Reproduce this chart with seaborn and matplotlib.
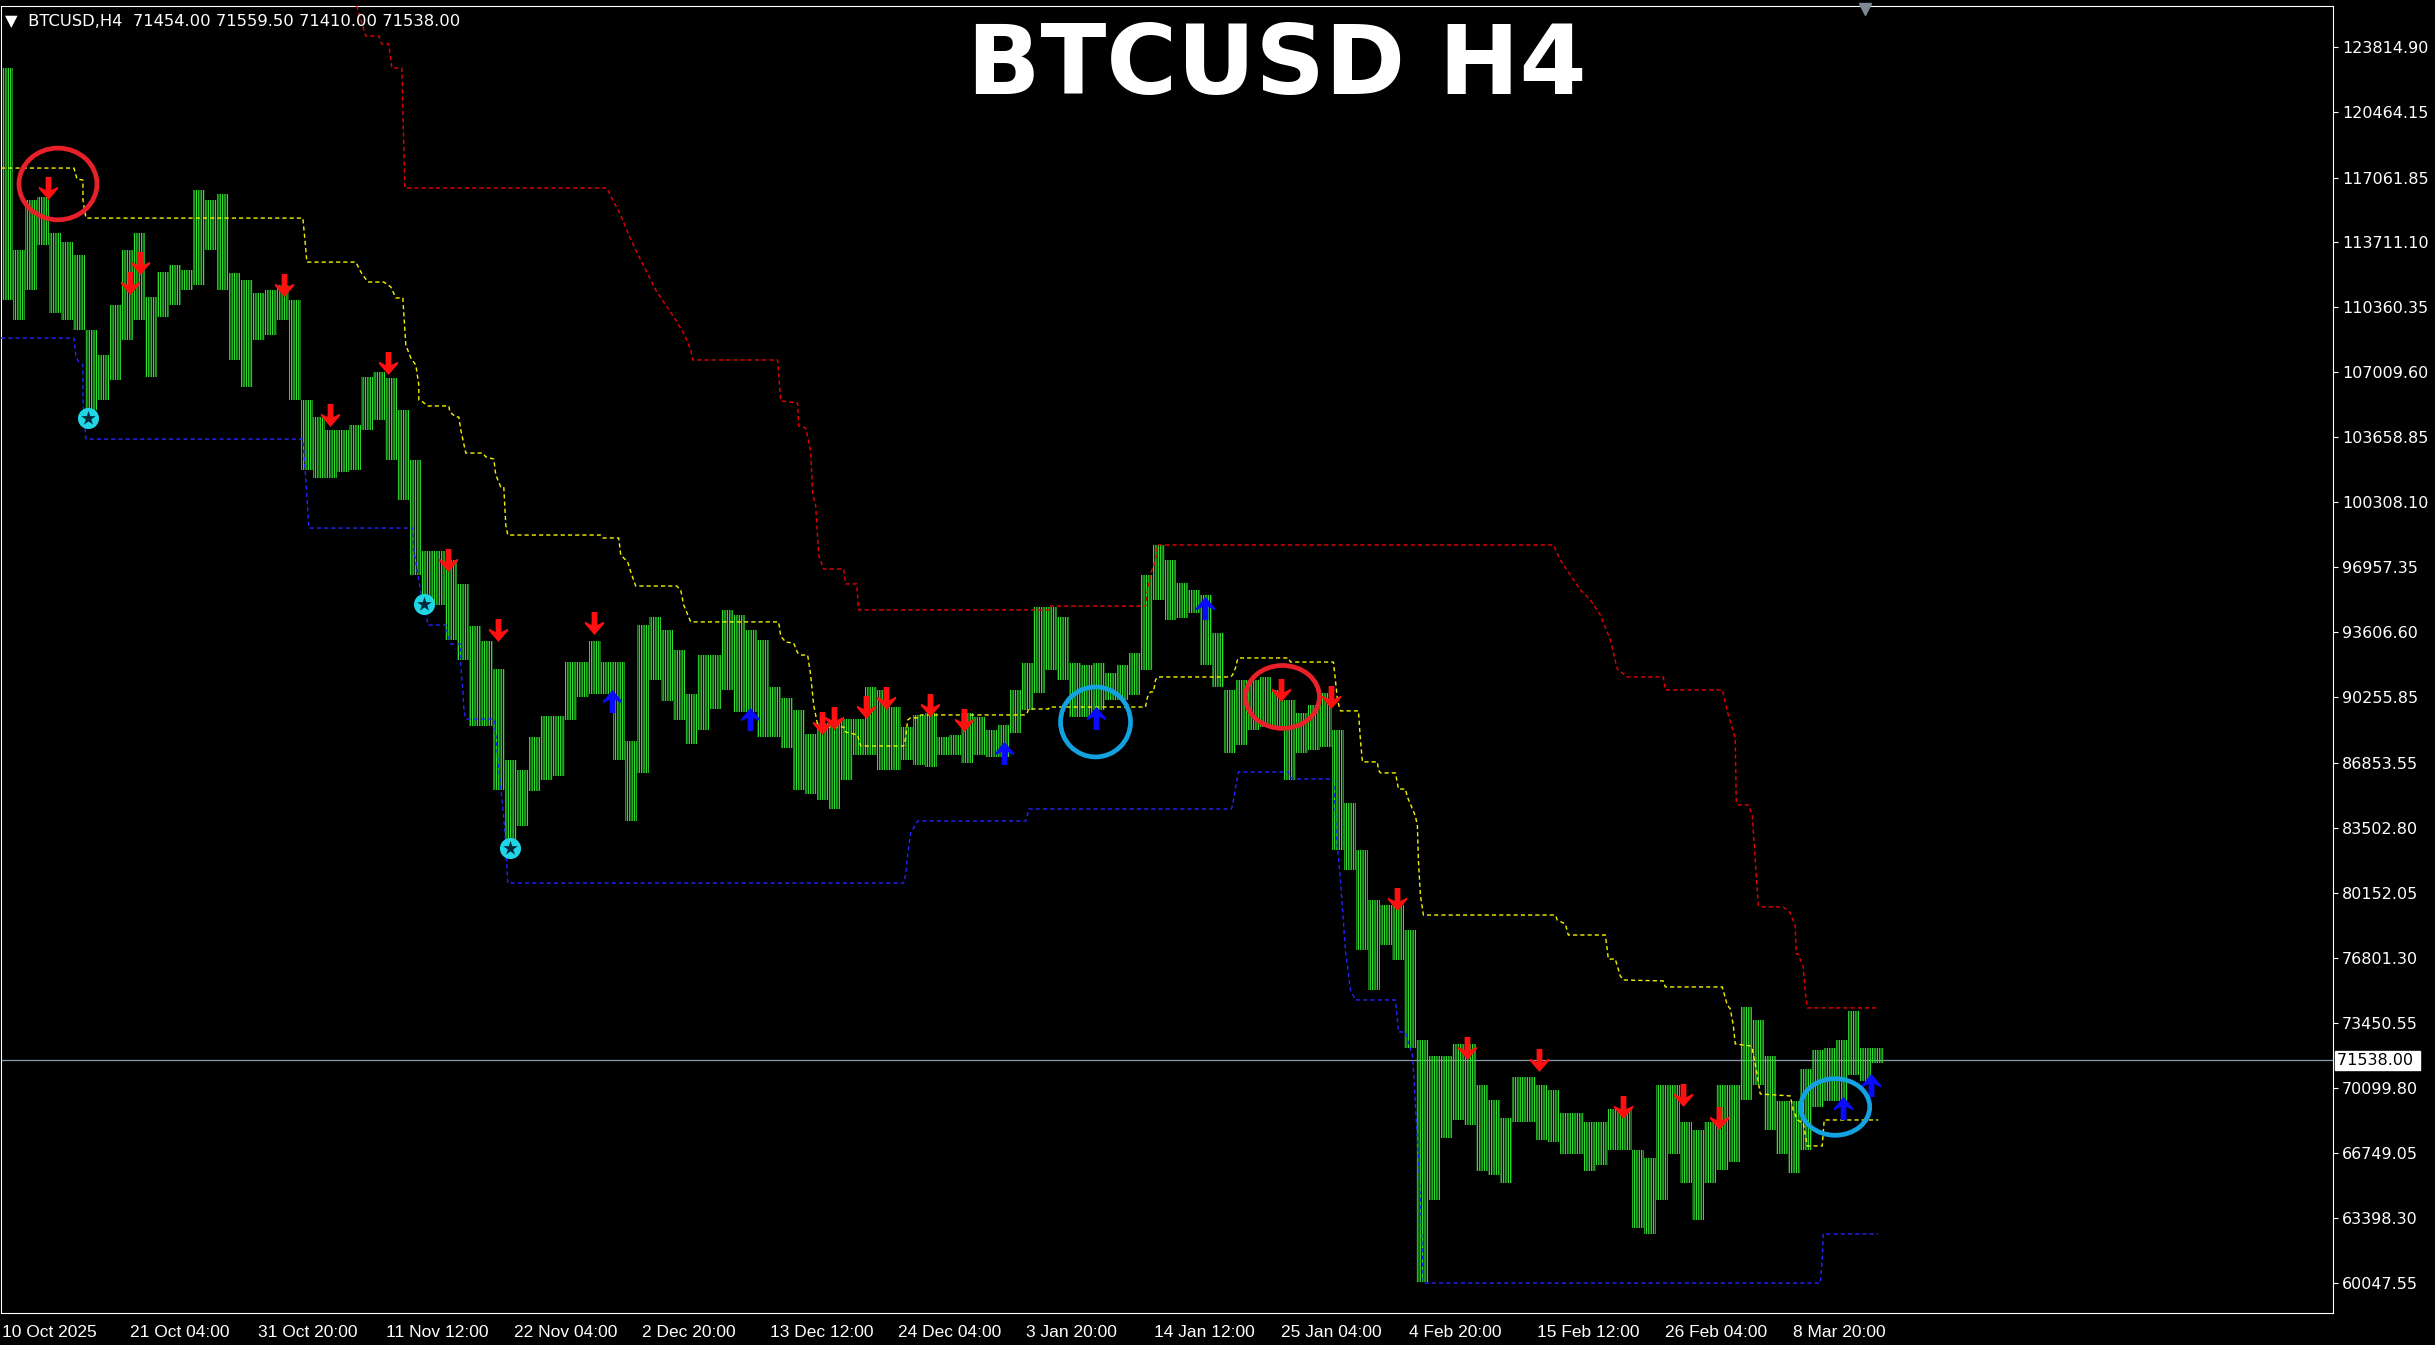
"""BTCUSD H4 terminal chart with channel lines, signal arrows and highlighted signals."""

import numpy as np
import pandas as pd
import matplotlib
matplotlib.use("Agg")
import matplotlib.pyplot as plt
import matplotlib.transforms as mtransforms
from matplotlib.path import Path
from matplotlib import font_manager
import seaborn as sns

# ---------------------------------------------------------------- data
SYMBOL = "BTCUSD"
PERIOD = "H4"
LAST_OHLC = [71454.00, 71559.50, 71410.00, 71538.00]
FIRST_BAR = "2025-10-10 12:00"   # bar number 0 (left edge of the chart)
BAR_HOURS = 4

# high / low of each block of 6 H4 bars (one day)
DAY_HIGH = [122710, 113320, 115900, 116060, 114200, 113740, 113070, 109200, 107910, 110490,
            113320, 114200, 110900, 112190, 112550, 112290, 116420, 115900, 116210, 112140,
            111780, 111110, 111260, 111520, 110740, 105590, 104710, 104040, 104040, 104300,
            106770, 107030, 106720, 105070, 102490, 97800, 97800, 97330, 96100, 93930,
            93160, 91710, 87020, 86500, 88210, 89290, 89290, 92070, 92070, 93160,
            92070, 92070, 88000, 93980, 94390, 93720, 92690, 90420, 92430, 92430,
            94760, 94500, 93720, 93210, 90780, 90220, 89600, 88360, 88930, 88930,
            89130, 89130, 90780, 90630, 89750, 88720, 89340, 89440, 88210, 88310,
            89440, 89240, 88570, 88820, 90630, 92020, 94910, 94910, 94390, 92020,
            91920, 92020, 91510, 91920, 92540, 96560, 98110, 97330, 96150, 95790,
            95530, 93570, 90630, 91140, 91140, 91300, 90630, 90110, 89440, 89860,
            90470, 88570, 84800, 82380, 79800, 79540, 79540, 78250, 72570, 71750,
            71750, 72370, 72370, 70250, 69480, 68550, 70670, 70670, 70250, 70000,
            68810, 68810, 68350, 68350, 69020, 69020, 66900, 66490, 70250, 70250,
            68350, 67930, 68350, 70250, 70250, 74280, 73610, 71750, 69430, 69430,
            71080, 72060, 72160, 72570, 74070, 72160, 72160]
DAY_LOW = [110740, 109710, 111260, 113580, 110070, 109710, 109200, 105070, 105590, 106620,
           108680, 109710, 106770, 109870, 110490, 111260, 111500, 113320, 111260, 107650,
           106260, 108680, 108940, 109710, 105590, 101980, 101560, 101560, 101870, 101980,
           104040, 104560, 102490, 100430, 96560, 94760, 95010, 93210, 92180, 88770,
           88770, 85470, 82480, 83610, 85420, 85990, 86190, 89080, 90270, 90420,
           90420, 87020, 83870, 86350, 91140, 90060, 89080, 87840, 88570, 89650,
           90630, 89490, 89490, 88210, 88210, 87640, 85470, 85260, 84950, 84490,
           85990, 87280, 87280, 86500, 86500, 87020, 86760, 86660, 87280, 87280,
           86860, 87280, 87170, 87170, 88410, 89600, 90470, 91660, 91140, 89240,
           89240, 89600, 90110, 90110, 90370, 91660, 95270, 94240, 94340, 94600,
           91920, 90780, 87380, 87790, 88570, 88720, 88720, 85990, 87380, 87530,
           87690, 82380, 81350, 77220, 75150, 77470, 76700, 72160, 60100, 64320,
           67520, 68450, 68190, 65820, 65610, 65200, 68350, 68350, 67420, 67310,
           66700, 66700, 65820, 66130, 66900, 66900, 62880, 62570, 64320, 66700,
           65200, 63290, 65200, 65870, 66280, 69480, 70250, 67930, 66700, 65720,
           66900, 69120, 69430, 69430, 70770, 70460, 71390]

# channel indicator, vertices as (bar number, price)
UPPER_BAR = [174.5, 178, 182, 188.5, 190, 193.5, 195, 200, 201.5, 302.5, 305.5, 309.5, 313.5, 317,
             322, 327, 332, 337, 341.5, 344.5, 345.5, 388, 389.5, 398, 398.5, 402, 404.5, 405.5,
             407, 408.5, 411, 421, 422, 427.5, 428.5, 523.5, 524, 572, 573, 574.5, 577, 578,
             776, 779.5, 784.5, 789.5, 794.5, 799.5, 804.5, 808, 813, 831, 832, 860.5, 863.5,
             867, 867.5, 868.5, 873.5, 875.5, 877, 878.5, 879.5, 891, 894.5, 897, 897.5, 898.5,
             901, 902, 903, 938.5]
UPPER_PRICE = [126730, 125700, 124360, 124360, 123950, 123950, 122710, 122710, 116520, 116520,
               115900, 115130, 114100, 113320, 112290, 111260, 110490, 109710, 108940, 108170,
               107650, 107650, 105540, 105430, 104250, 104140, 102960, 100740, 100170, 97590,
               96870, 96870, 96100, 96100, 94760, 94760, 94960, 94960, 95790, 96610, 97330,
               98110, 98110, 97330, 96560, 95790, 95270, 94500, 93210, 91710, 91300, 91300,
               90630, 90630, 89340, 88150, 84800, 84700, 84700, 84180, 81860, 79540, 79440,
               79440, 79130, 78460, 77010, 77010, 76340, 75100, 74230, 74230]
MID_BAR = [-0.5, 36, 37.5, 40.5, 40.5, 42, 150.5, 152, 152.5, 177, 179.5, 183, 191, 194.5, 197,
           200.5, 202, 204.5, 207, 208.5, 208.5, 210.5, 213, 223.5, 224, 227, 228.5, 229.5, 232,
           240.5, 242, 246, 247, 249.5, 251, 252, 253, 299.5, 300.5, 308.5, 309.5, 313, 314.5,
           317, 337.5, 339.5, 341, 344.5, 388.5, 389.5, 392, 396, 398, 399.5, 403, 404.5, 406,
           408, 409.5, 421, 422, 428, 429.5, 451, 452, 453, 454.5, 458.5, 459.5, 512, 513,
           513.5, 523.5, 524, 572, 573, 574.5, 576, 577, 578, 614.5, 615.5, 617, 618, 618.5,
           643.5, 644.5, 666, 667, 668, 669.5, 678.5, 679.5, 680.5, 688, 688.5, 689.5, 697,
           698, 698.5, 702, 703, 705.5, 707, 708, 708.5, 709.5, 711, 777, 778, 782, 783.5,
           802, 803, 803.5, 807, 808, 809.5, 811, 831, 832, 860.5, 863, 864.5, 866, 867,
           874.5, 875.5, 878, 879.5, 894.5, 896, 898, 901, 903, 910.5, 911.5, 938.5]
MID_PRICE = [117550, 117550, 116990, 116930, 115900, 114970, 114970, 113320, 112700, 112700,
             112190, 111670, 111670, 111420, 110850, 110850, 108420, 107750, 107390, 106360,
             105590, 105480, 105280, 105280, 104970, 104710, 104710, 104040, 102850, 102850,
             102650, 102540, 101720, 101100, 101100, 99140, 98620, 98620, 98470, 98470,
             97590, 97230, 96720, 95990, 95990, 95790, 95010, 94140, 94140, 93410,
             93100, 93050, 92540, 92430, 92430, 91400, 89860, 88820, 88720, 88720,
             88460, 88310, 87740, 87740, 88150, 89080, 89190, 89190, 89340, 89340,
             89490, 89650, 89650, 89750, 89750, 90270, 90530, 90530, 91140, 91300,
             91300, 91400, 91760, 92180, 92280, 92280, 92070, 92070, 91140, 90110,
             89550, 89550, 88050, 86920, 86920, 86500, 86350, 86350, 85830, 85520,
             85520, 85110, 84490, 84130, 83610, 81860, 80050, 79020, 79020, 78760,
             78560, 77990, 77990, 77220, 76750, 76750, 76390, 75880, 75670, 75620,
             75310, 75310, 74380, 74180, 73350, 72370, 72270, 72110, 70770, 69790,
             69690, 68970, 68450, 68290, 67110, 67110, 68450, 68450]
LOWER_BAR = [-0.5, 36, 37, 38.5, 40.5, 40.5, 41, 42, 150.5, 152, 153.5, 205.5, 206, 208, 209.5,
             212, 213, 222, 223, 224.5, 229.5, 229.5, 230.5, 231, 232, 246, 247, 248, 249.5,
             251, 252, 253, 451, 452, 453, 454.5, 458, 512, 513, 513.5, 615, 616, 617, 618,
             618.5, 643.5, 644.5, 645.5, 666, 666.5, 667.5, 669.5, 672, 674.5, 677, 697, 698,
             698.5, 702, 703, 705.5, 706, 708, 709.5, 711, 909.5, 910.5, 911, 938.5]
LOWER_PRICE = [108780, 108780, 107800, 107550, 107390, 105590, 104810, 103570, 103570, 101460,
               98980, 98980, 97850, 96560, 95680, 94760, 93980, 93980, 93470, 93000,
               93000, 91920, 90630, 89700, 89130, 89130, 88310, 87020, 85570, 84030,
               82630, 80670, 80670, 81090, 82120, 83250, 83870, 83870, 84180, 84490,
               84490, 84950, 85570, 86140, 86400, 86400, 86140, 86040, 86040, 85210,
               83150, 80830, 77220, 75160, 74640, 74640, 73610, 72990, 72990, 72570,
               71800, 71080, 67420, 64320, 60040, 60040, 61230, 62570, 62570]

# signals (bar number, price)
SELL_BAR = [23, 64, 69, 141, 164, 193, 223, 248, 296, 410, 416, 432, 442, 464, 481, 640, 665,
            698, 733, 769, 811, 841, 859]
SELL_PRICE = [116520, 111620, 112650, 111520, 104810, 107500, 97330, 93720, 94090, 88930,
              89190, 89750, 90220, 89860, 89080, 90630, 90270, 79850, 72160, 71540, 69120,
              69740, 68550]
BUY_BAR = [305, 374, 501, 547, 602, 921, 935]
BUY_PRICE = [90060, 89130, 87380, 89190, 94860, 69070, 70260]
STAR_BAR = [43, 211, 254]
STAR_PRICE = [104660, 95060, 82480]

# signals circled by hand on the screenshot
HIGHLIGHT_BAR = [28, 547, 640.5, 917]
HIGHLIGHT_PRICE = [116730, 88980, 90270, 69120]
HIGHLIGHT_SIDE = ["sell", "buy", "sell", "buy"]

PRICE_TICKS = [123814.90, 120464.15, 117061.85, 113711.10, 110360.35, 107009.60, 103658.85,
               100308.10, 96957.35, 93606.60, 90255.85, 86853.55, 83502.80, 80152.05,
               76801.30, 73450.55, 70099.80, 66749.05, 63398.30, 60047.55]
DATE_TICKS = ["2025-10-10 12:00", "2025-10-21 04:00", "2025-10-31 20:00", "2025-11-11 12:00",
              "2025-11-22 04:00", "2025-12-02 20:00", "2025-12-13 12:00", "2025-12-24 04:00",
              "2026-01-03 20:00", "2026-01-14 12:00", "2026-01-25 04:00", "2026-02-04 20:00",
              "2026-02-15 12:00", "2026-02-26 04:00", "2026-03-08 20:00"]

# ---------------------------------------------------------------- style
GREEN = "#2ee02e"
RED_LINE = "#e80000"
YELLOW_LINE = "#f2f200"
BLUE_LINE = "#2424ff"
SELL_COLOR = "#ff1010"
BUY_COLOR = "#0a0aff"
RING_COLORS = {"sell": "#e8202a", "buy": "#12a2e2"}
RING_SHAPE = [(3150, 0.92, 3.4), (2540, 1.0, 3.4), (2840, 0.85, 3.4), (2470, 0.82, 3.4)]


def pick_font(name, fallback):
    try:
        font_manager.findfont(font_manager.FontProperties(family=name), fallback_to_default=False)
        return name
    except ValueError:
        return fallback


def arrow_marker(up=True):
    v = np.array([(0, 0.6), (0.5, 0.02), (0.5, -0.1), (0.15, 0.08), (0.15, -0.6),
                  (-0.15, -0.6), (-0.15, 0.08), (-0.5, -0.1), (-0.5, 0.02), (0, 0.6)])
    if not up:
        v[:, 1] *= -1
    return Path(v, closed=True)


def ring_marker(ratio):
    c = Path.unit_circle()
    return Path(c.vertices * np.array([1.0, ratio]), c.codes)


sns.set_theme(style="dark", rc={
    "figure.facecolor": "black", "axes.facecolor": "black", "savefig.facecolor": "black",
    "axes.edgecolor": "white", "axes.linewidth": 0.8, "text.color": "white",
    "xtick.color": "white", "ytick.color": "white", "axes.grid": False,
    "hatch.linewidth": 0.95,
})
plt.rcParams["font.family"] = ["DejaVu Sans"]
DATE_FONT = pick_font("Liberation Sans Narrow", "Liberation Sans")

fig = plt.figure(figsize=(24.35, 13.45), dpi=100)
ax = fig.add_axes([1 / 2435, 32 / 1345, 2332 / 2435, 1307 / 1345])
ax.set_xlim(-0.5, 1166)
ax.set_ylim(58493, 125909)

# price bars, one block per day, striped like the H4 bars inside it
days = pd.DataFrame({"high": DAY_HIGH, "low": DAY_LOW})
days["bar"] = np.arange(len(days)) * 6 + 2.5
ax.bar(days["bar"], days["high"] - days["low"], bottom=days["low"], width=6,
       facecolor="none", edgecolor=GREEN, linewidth=0, hatch="|" * 7, zorder=2)

# current price line
ax.axhline(LAST_OHLC[3], color="#8a9aaa", lw=0.9, zorder=1)

# channel lines
for bars, prices, color in [(UPPER_BAR, UPPER_PRICE, RED_LINE),
                            (MID_BAR, MID_PRICE, YELLOW_LINE),
                            (LOWER_BAR, LOWER_PRICE, BLUE_LINE)]:
    line = pd.DataFrame({"bar": bars, "price": prices})
    sns.lineplot(data=line, x="bar", y="price", sort=False, estimator=None, color=color,
                 lw=1.0, linestyle=(0, (3, 2.2)), legend=False, ax=ax, zorder=3)

# signals
sns.scatterplot(x=SELL_BAR, y=SELL_PRICE, marker=arrow_marker(up=False), s=275,
                color=SELL_COLOR, linewidth=0, legend=False, ax=ax, zorder=4)
sns.scatterplot(x=BUY_BAR, y=BUY_PRICE, marker=arrow_marker(up=True), s=275,
                color=BUY_COLOR, linewidth=0, legend=False, ax=ax, zorder=4)
sns.scatterplot(x=STAR_BAR, y=STAR_PRICE, marker="o", s=230, color="#1fd6e6",
                linewidth=0, legend=False, ax=ax, zorder=4)
sns.scatterplot(x=STAR_BAR, y=STAR_PRICE, marker="*", s=120, color="#042838",
                linewidth=0, legend=False, ax=ax, zorder=5)

# hand drawn rings
for bar, price, side, (size, ratio, lw) in zip(HIGHLIGHT_BAR, HIGHLIGHT_PRICE,
                                              HIGHLIGHT_SIDE, RING_SHAPE):
    ax.scatter([bar], [price], marker=ring_marker(ratio), s=size, facecolors="none",
               edgecolors=RING_COLORS[side], linewidths=lw, zorder=6)

# axes, ticks
for side in ["left", "right", "top", "bottom"]:
    ax.spines[side].set_color("white")
    ax.spines[side].set_linewidth(0.8)
ax.set_xlabel("")
ax.set_ylabel("")
ax.yaxis.tick_right()
ax.set_yticks(PRICE_TICKS)
ax.set_yticklabels([f"{v:.2f}" for v in PRICE_TICKS])
ax.tick_params(axis="y", length=3.6, width=0.8, pad=3, labelsize=11.5, colors="white",
               left=False, right=True)

start = pd.Timestamp(FIRST_BAR)
tick_times = pd.to_datetime(DATE_TICKS)
tick_pos = [(t - start) / pd.Timedelta(hours=BAR_HOURS) for t in tick_times]
tick_lab = [f"{t.day} {t.strftime('%b %Y')}" if i == 0 else f"{t.day} {t.strftime('%b %H:%M')}"
            for i, t in enumerate(tick_times)]
ax.set_xticks(tick_pos)
ax.set_xticklabels(tick_lab, fontfamily=DATE_FONT, fontsize=12.5)
ax.tick_params(axis="x", length=3, width=0.8, pad=5.5, colors="white")
for lab in ax.get_xticklabels():
    lab.set_horizontalalignment("left")

# last price tag on the price scale
tag = mtransforms.blended_transform_factory(ax.transAxes, ax.transData)
ax.text(1 + 4 / 2332, LAST_OHLC[3], f"{LAST_OHLC[3]:.2f} ", transform=tag, ha="left",
        va="center", color="black", fontsize=11.5, clip_on=False, zorder=7,
        bbox=dict(boxstyle="square,pad=0.12", facecolor="white", edgecolor="white"))

# header line and chart title
ohlc = " ".join(f"{v:.2f}" for v in LAST_OHLC)
ax.text(4 / 2332, 1 - 16 / 1307, f"\u25bc  {SYMBOL},{PERIOD}  {ohlc}", transform=ax.transAxes,
        ha="left", va="center", color="white", fontsize=11.8, zorder=7)
fig.text(1277 / 2435, 1 - 94 / 1345, f"{SYMBOL} {PERIOD}", ha="center", va="baseline",
         color="white", fontsize=69.5, fontweight="bold")

# chart shift marker
ax.plot([1864 / 2332], [1 - 3 / 1307], marker="v", markersize=9, color="#7d8894",
        transform=ax.transAxes, clip_on=False, zorder=7)

fig.savefig("out.png", dpi=100, facecolor="black")
